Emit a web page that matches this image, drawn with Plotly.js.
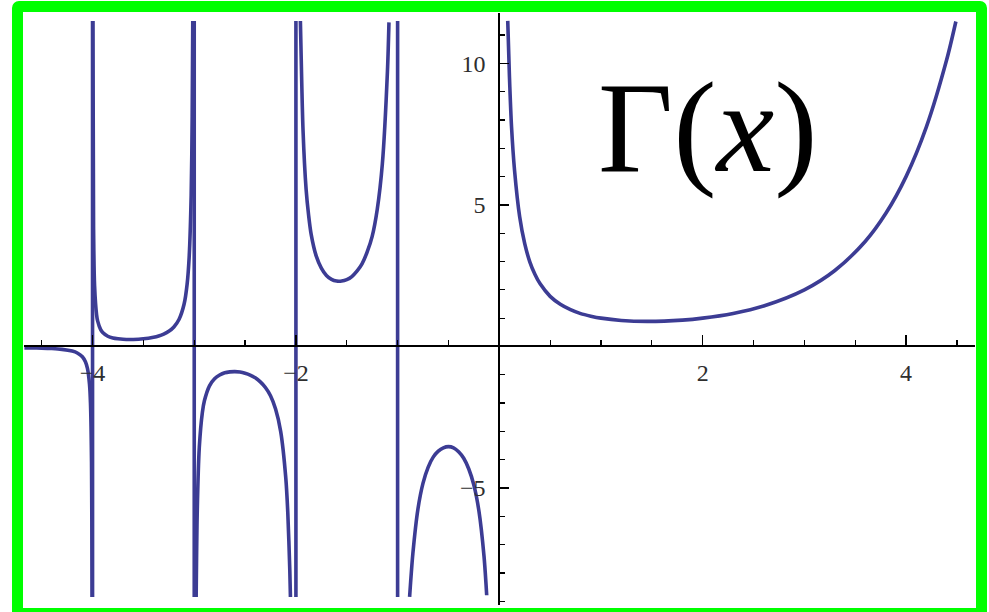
<!DOCTYPE html>
<html>
<head>
<meta charset="utf-8">
<script src="https://cdn.plot.ly/plotly-3.0.1.min.js"></script>
<style>
  html, body { margin: 0; padding: 0; background: #ffffff; overflow: hidden; }
  #chart { position: absolute; left: 0; top: 0; width: 989px; height: 612px; }
  #frame {
    position: absolute; left: 12px; top: 1px; width: 975px; height: 618px;
    box-sizing: border-box; border: 11.5px solid #00ff00; border-radius: 7px;
    pointer-events: none;
  }
</style>
</head>
<body>
<div id="chart"></div>
<div id="frame"></div>
<script>
// Γ(x) sampled branch by branch; the poles sit at the non-positive integers.

// x < -4
const tailX = [-4.67, -4.6, -4.5, -4.4, -4.3, -4.2, -4.15, -4.1, -4.07, -4.05, -4.03, -4.02, -4.01, -4.005, -4.0047];
const tailY = [-0.053, -0.054, -0.060, -0.074, -0.102, -0.164, -0.230, -0.364, -0.539, -0.776, -1.33, -2.02, -4.1, -8.3, -8.85];

// -4 < x < -3
const b1X = [-3.9964, -3.99, -3.98, -3.96, -3.95, -3.92, -3.9, -3.85, -3.8, -3.75, -3.7, -3.6, -3.5, -3.4, -3.35, -3.3, -3.25, -3.2, -3.15, -3.1, -3.07, -3.05, -3.03, -3.02, -3.0143];
const b1Y = [11.5, 4.23, 2.15, 1.11, 0.902, 0.593, 0.492, 0.361, 0.300, 0.270, 0.252, 0.247, 0.270, 0.326, 0.371, 0.439, 0.537, 0.689, 0.952, 1.49, 2.20, 3.14, 5.35, 8.13, 11.5];

// -3 < x < -2
const b2X = [-2.981, -2.97, -2.95, -2.92, -2.9, -2.85, -2.8, -2.75, -2.7, -2.65, -2.6, -2.55, -2.5, -2.45, -2.4, -2.35, -2.3, -2.25, -2.2, -2.15, -2.1, -2.08, -2.06, -2.054];
const b2Y = [-8.85, -5.78, -3.56, -2.33, -1.92, -1.39, -1.14, -1.01, -0.931, -0.898, -0.889, -0.904, -0.945, -1.01, -1.11, -1.25, -1.45, -1.74, -2.21, -3.0, -4.63, -5.86, -7.93, -8.85];

// -2 < x < -1
const b3X = [-1.956, -1.95, -1.93, -1.9, -1.875, -1.85, -1.8, -1.75, -1.7, -1.65, -1.6, -1.55, -1.5, -1.45, -1.4, -1.35, -1.3, -1.25, -1.2, -1.15, -1.1, -1.085];
const b3Y = [11.5, 10.51, 7.63, 5.56, 4.63, 3.96, 3.19, 2.77, 2.51, 2.37, 2.31, 2.31, 2.36, 2.47, 2.66, 2.92, 3.33, 3.89, 4.85, 6.45, 9.72, 11.45];

// -1 < x < 0
const b4X = [-0.882, -0.85, -0.8, -0.75, -0.7, -0.65, -0.6, -0.55, -0.5, -0.45, -0.4, -0.35, -0.3, -0.25, -0.2, -0.15, -0.13, -0.124];
const b4Y = [-8.85, -7.32, -5.74, -4.83, -4.27, -3.91, -3.70, -3.58, -3.54, -3.58, -3.72, -3.95, -4.33, -4.90, -5.82, -7.42, -8.43, -8.79];

// x > 0
const b5X = [0.083, 0.1, 0.12, 0.15, 0.2, 0.25, 0.3, 0.35, 0.4, 0.5, 0.6, 0.7, 0.8, 0.9, 1.0, 1.2, 1.46, 1.8, 2.0, 2.3, 2.6, 3.0, 3.3, 3.6, 3.8, 4.0, 4.2, 4.4, 4.49];
const b5Y = [11.5, 9.51, 7.78, 6.22, 4.59, 3.63, 2.99, 2.55, 2.22, 1.77, 1.49, 1.30, 1.16, 1.07, 1.0, 0.918, 0.886, 0.931, 1.0, 1.167, 1.430, 2.0, 2.683, 3.717, 4.694, 6.0, 7.757, 10.136, 11.48];

// vertical jumps drawn across each pole
const poles = [-4, -3, -2, -1];
const poleTop = 11.5;
const poleBottom = -8.85;

// axis ticks
const xTickVals = [-4, -2, 2, 4];
const xTickText = ['\u22124', '\u22122', '2', '4'];
const yTickVals = [-5, 5, 10];
const yTickText = ['\u22125', '5', '10'];

const curveColor = '#3c3c94';
const curveWidth = 3.6;
const branches = [[tailX, tailY], [b1X, b1Y], [b2X, b2Y], [b3X, b3Y], [b4X, b4Y], [b5X, b5Y]];

const traces = [];
branches.forEach(([xs, ys]) => {
  traces.push({
    x: xs, y: ys, type: 'scatter', mode: 'lines',
    line: { color: curveColor, width: curveWidth, shape: 'spline', smoothing: 0.8 },
    hoverinfo: 'skip', showlegend: false
  });
});
poles.forEach(p => {
  traces.push({
    x: [p, p], y: [poleBottom, poleTop], type: 'scatter', mode: 'lines',
    line: { color: curveColor, width: curveWidth },
    hoverinfo: 'skip', showlegend: false
  });
});

const xRange = [-4.674, 4.678];
const yRange = [-9.134, 11.78];
const tickFont = { family: 'Liberation Serif, Times New Roman, serif', size: 24, color: '#2e2e2e' };

const layout = {
  width: 989, height: 612,
  margin: { l: 24, r: 14, t: 13, b: 7, pad: 0 },
  paper_bgcolor: 'rgba(0,0,0,0)',
  plot_bgcolor: '#ffffff',
  showlegend: false,
  xaxis: {
    range: xRange, anchor: 'free',
    position: (0 - yRange[0]) / (yRange[1] - yRange[0]),
    showgrid: false, zeroline: false,
    showline: true, linecolor: '#000000', linewidth: 2,
    tickmode: 'array', tickvals: xTickVals, ticktext: xTickText,
    ticks: 'inside', ticklen: 10, tickwidth: 1.5, tickcolor: '#000000',
    ticklabelstandoff: 5,
    minor: { tickmode: 'linear', tick0: 0, dtick: 0.5, ticks: 'inside', ticklen: 5, tickwidth: 1.2, tickcolor: '#000000', showgrid: false },
    tickfont: tickFont, fixedrange: true
  },
  yaxis: {
    range: yRange, anchor: 'free',
    position: (0 - xRange[0]) / (xRange[1] - xRange[0]),
    showgrid: false, zeroline: false,
    showline: true, linecolor: '#000000', linewidth: 2,
    tickmode: 'array', tickvals: yTickVals, ticktext: yTickText,
    ticks: 'inside', ticklen: 9, tickwidth: 1.5, tickcolor: '#000000',
    ticklabelstandoff: 8,
    minor: { tickmode: 'linear', tick0: 0, dtick: 1, ticks: 'inside', ticklen: 5, tickwidth: 1.2, tickcolor: '#000000', showgrid: false },
    tickfont: tickFont, fixedrange: true
  },
  annotations: [{
    text: '\u0393(<i>x</i>)', xref: 'x', yref: 'y', x: 2.05, y: 7.75,
    xanchor: 'center', yanchor: 'middle', showarrow: false,
    font: { family: 'Liberation Serif, Times New Roman, serif', size: 130, color: '#000000' }
  }]
};

Plotly.newPlot('chart', traces, layout, { staticPlot: true, displayModeBar: false });
</script>
</body>
</html>
